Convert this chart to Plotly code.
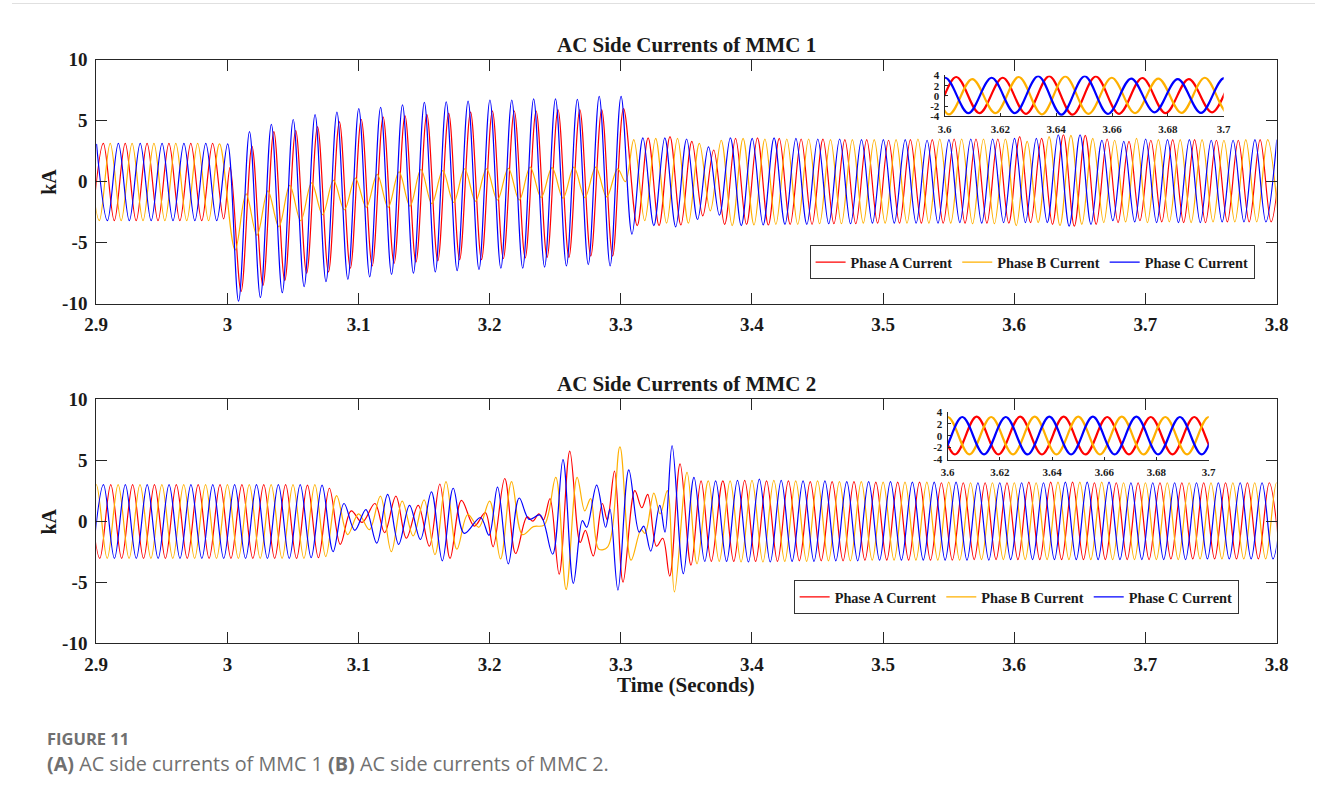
import plotly.graph_objects as go

HALF = 1 / 120  # half period of the 60 Hz currents (s)

# ================= MMC 1 : current extrema (kA) =================
# Phase C (blue): one run of extrema, first at t0, one every half period
m1_c_t0 = 2.9002
m1_c = [3.1, -3.2, 3.15, -3.2, 3.15, -3.2, 3.15, -3.2, 3.15, -3.2, 3.15, -3.2,
        3.1, -9.8, 4.1, -9.5, 4.7, -9.1, 5.1, -8.6, 5.5, -8.2, 5.7, -8.0, 6.0, -7.8,
        6.1, -7.6, 6.3, -7.5, 6.5, -7.4, 6.55, -7.3, 6.6, -7.2, 6.7, -7.1, 6.7, -7.1,
        6.8, -7.0, 6.8, -6.9, 6.75, -6.8, 7.0, -6.9, 7.0,
        -4.3, 3.6, -3.6, 3.6, -3.7, 3.5, -3.1, 2.85, -2.75, 3.6, -3.6,
        3.55, -3.55, 3.6, -3.5, 3.55, -3.5, 3.5, -3.45, 3.5, -3.45, 3.45, -3.4,
        3.45, -3.4, 3.45, -3.4, 3.4, -3.4, 3.45, -3.35, 3.5, -3.4, 3.5, -3.35,
        3.55, -3.35, 3.55, -3.35, 3.85, -3.65, 3.85, -3.5, 3.4, -3.2, 3.3, -3.3, 3.5,
        -3.35, 3.45, -3.35, 3.45, -3.35, 3.4, -3.3, 3.4, -3.3, 3.45, -3.3, 3.45]
# Phase A (red)
m1_a_pre_t0 = 2.8971
m1_a_pre = [-3.2, 3.15, -3.2, 3.15, -3.2, 3.15, -3.2, 3.15, -3.2, 3.15, -3.2, 3.15, -3.05]
m1_a_flt_t0 = 3.0021
m1_a_flt = [1.2, -9.0, 2.9, -8.5, 4.1, -8.1, 4.2, -7.5, 4.5, -7.4, 4.9, -7.1, 5.1, -6.9,
            5.3, -6.7, 5.4, -6.6, 5.5, -6.5, 5.6, -6.4, 5.7, -6.4, 5.8, -6.3, 5.8, -6.25,
            5.8, -6.2, 5.9, -6.2, 5.9, -6.1, 5.9, -6.1, 6.0]
m1_a_post_t0 = 3.3125
m1_a_post = [-3.6, 3.6, -3.6, 3.7, -3.55, 3.3, -2.8, 2.6, -3.5, 3.55,
             -3.5, 3.6, -3.55, 3.55, -3.5, 3.5, -3.5, 3.5, -3.45, 3.45, -3.45, 3.45, -3.4,
             3.4, -3.4, 3.45, -3.4, 3.45, -3.4, 3.5, -3.4, 3.5, -3.4, 3.5, -3.4,
             3.7, -3.35, 3.55, -3.5, 3.85, -3.65, 3.8, -3.5, 3.5, -3.35, 3.3, -3.2, 3.4,
             -3.3, 3.45, -3.35, 3.45, -3.35, 3.4, -3.3, 3.4, -3.3, 3.45, -3.3, 3.45]
# Phase B (orange)
m1_b_pre_t0 = 2.8940
m1_b_pre = [3.15, -3.2, 3.15, -3.2, 3.15, -3.2, 3.15, -3.2, 3.15, -3.2, 3.15, -3.2, 3.1]
m1_b_flt_t0 = 3.0059
m1_b_flt = [-5.6, -1.0, -4.4, -0.75, -3.7, -0.3, -3.2, -0.1, -2.7, 0.1, -2.3, 0.3,
            -2.1, 0.6, -2.1, 0.8, -2.0, 1.0, -1.8, 0.9, -1.7, 1.05, -1.6, 1.05, -1.5,
            1.1, -1.5, 1.2, -1.3, 1.15, -1.35, 1.2, -1.3, 1.2, -1.25, 1.05]
m1_b_mid_t = [3.3035]
m1_b_mid = [0.0]
m1_b_post_t0 = 3.3099
m1_b_post = [3.45, -3.2, 3.55, -3.4, 3.55, -3.4, 3.15, -2.4, 3.4, -3.6,
             3.55, -3.55, 3.5, -3.5, 3.5, -3.5, 3.5, -3.45, 3.45, -3.45, 3.45, -3.4, 3.45,
             -3.4, 3.45, -3.4, 3.5, -3.4, 3.5, -3.4, 3.5, -3.45, 3.5, -3.45, 3.5,
             -3.6, 3.3, -3.35, 3.7, -3.6, 3.8, -3.5, 3.55, -3.35, 3.4, -3.3, 3.55, -3.35,
             3.45, -3.3, 3.45, -3.35, 3.45, -3.3, 3.4, -3.3, 3.45, -3.3, 3.45, -3.3]

# ================= MMC 2 =================
# Phase A (red)
m2_a_pre_t0 = 2.8944
m2_a_pre = [3.0, -3.05, 3.0, -3.05, 3.0, -3.05, 3.0, -3.05, 3.0, -3.05, 3.0, -3.05,
            3.0, -3.05, 3.0, -3.05, 3.0, -3.05, 3.0, -3.05, 2.95, -3.0]
m2_a_tr_t = [3.0778, 3.0861, 3.0944, 3.1028, 3.1125, 3.1199, 3.1285, 3.1365, 3.1455,
             3.1540, 3.1620, 3.1698, 3.1785, 3.1883, 3.1967, 3.2026, 3.2115, 3.2198,
             3.2285, 3.2330, 3.2375, 3.2410, 3.2460, 3.2530, 3.2611, 3.2690, 3.2730,
             3.2790, 3.2859, 3.2897, 3.2952, 3.3017, 3.3107, 3.3160, 3.3205, 3.3272,
             3.3320, 3.3373, 3.3452, 3.3535, 3.3612, 3.3690]
m2_a_tr = [2.7, -1.9, 0.85, -0.1, 1.45, -0.95, 2.05, -1.4, 1.3, -2.05, 3.05, -3.05,
           1.7, -0.4, 0.7, -2.1, 3.5, -2.65, 0.35, 0.0, 0.6, 0.1, 1.85, -4.35, 5.75,
           -1.75, -0.75, -2.85, 1.45, 0.1, 4.1, -5.0, 2.5, 1.1, 2.2, -2.05, -1.4, -4.5,
           4.7, -3.6, 3.3, -3.3]
m2_a_post_t0 = 3.3778
m2_a_post = [3.3, -3.3, 3.35, -3.3, 3.3, -3.3, 3.3, -3.25, 3.25, -3.25,
             3.25, -3.25, 3.25, -3.2, 3.2, -3.2, 3.2, -3.2, 3.2, -3.2,
             3.15, -3.2, 3.15, -3.15, 3.15, -3.15, 3.15, -3.15, 3.2, -3.15,
             3.2, -3.15, 3.2, -3.15, 3.15, -3.15, 3.15, -3.15, 3.15, -3.15,
             3.15, -3.1, 3.15, -3.1, 3.15, -3.1, 3.15, -3.1, 3.15, -3.1, 3.15, -3.1]
# Phase B (orange)
m2_b_pre_t0 = 2.8917
m2_b_pre = [-3.05, 3.0, -3.05, 3.0, -3.05, 3.0, -3.05, 3.0, -3.05, 3.0, -3.05, 3.0,
            -3.05, 3.0, -3.05, 3.0, -3.05, 3.0, -3.05, 3.0, -3.05, 3.0]
m2_b_tr_t = [3.0750, 3.0833, 3.0917, 3.1000, 3.1083, 3.1167, 3.1250, 3.1333, 3.1417,
             3.1500, 3.1583, 3.1667, 3.1750, 3.1833, 3.1917, 3.2000, 3.2083, 3.2167,
             3.2250, 3.2333, 3.2417, 3.2504, 3.2583, 3.2667, 3.2725, 3.2770, 3.2833,
             3.2900, 3.2993, 3.3078, 3.3155, 3.3185, 3.3252, 3.3300, 3.3355, 3.3409,
             3.3505, 3.3581]
m2_b_tr = [-2.9, 2.1, -1.1, 0.6, -0.7, 2.05, -2.5, 1.65, -1.2, 1.75, -2.75, 3.25,
           -2.3, 0.55, -0.5, 1.65, -3.1, 3.25, -1.1, -0.45, -0.3, 3.6, -5.6, 3.6, 0.85,
           1.85, -2.3, -2.1, 6.1, -3.2, -0.7, -1.0, 2.3, 0.6, 2.5, -5.8, 4.0, -3.5]
m2_b_post_t0 = 3.3667
m2_b_post = [3.3, -3.3, 3.3, -3.35, 3.35, -3.35, 3.35, -3.3, 3.3, -3.3,
             3.3, -3.25, 3.25, -3.25, 3.25, -3.2, 3.2, -3.2, 3.2, -3.2,
             3.2, -3.2, 3.2, -3.2, 3.15, -3.15, 3.15, -3.15, 3.15, -3.15,
             3.15, -3.15, 3.2, -3.15, 3.2, -3.15, 3.2, -3.15, 3.15, -3.15,
             3.15, -3.15, 3.15, -3.15, 3.15, -3.1, 3.15, -3.1, 3.15, -3.1,
             3.15, -3.1, 3.15, -3.1]
# Phase C (blue)
m2_c_pre_t0 = 2.8972
m2_c_pre = [-3.05, 3.0, -3.05, 3.0, -3.05, 3.0, -3.05, 3.0, -3.05, 3.0, -3.05, 3.0,
            -3.05, 3.0, -3.05, 3.0, -3.05, 3.0, -3.05, 3.0, -3.0, 2.95]
m2_c_tr_t = [3.0806, 3.0889, 3.0972, 3.1056, 3.1139, 3.1222, 3.1306, 3.1389, 3.1472,
             3.1556, 3.1639, 3.1722, 3.1806, 3.1930, 3.1995, 3.2060, 3.2142, 3.2225,
             3.2301, 3.2385, 3.2480, 3.2559, 3.2638, 3.2707, 3.2740, 3.2816, 3.2884,
             3.2917, 3.2978, 3.3061, 3.3140, 3.3175, 3.3228, 3.3297, 3.3337, 3.3391,
             3.3477, 3.3558, 3.3640]
m2_c_tr = [-2.5, 1.45, -0.75, 0.95, -1.8, 2.2, -1.9, 1.3, -1.5, 2.4, -3.25, 2.7, -1.0,
           0.3, -1.15, 2.8, -3.5, 1.9, 0.15, 0.5, -2.7, 5.05, -5.1, 0.05, -0.5, 2.95,
           -0.5, 1.0, -5.65, 4.2, -0.9, -0.4, -2.45, 1.3, -0.9, 6.2, -4.3, 3.6, -3.3]
m2_c_post_t0 = 3.3723
m2_c_post = [3.3, -3.3, 3.35, -3.35, 3.45, -3.35, 3.35, -3.3, 3.3, -3.3,
             3.3, -3.25, 3.25, -3.25, 3.25, -3.2, 3.25, -3.2, 3.2, -3.2,
             3.2, -3.2, 3.2, -3.2, 3.15, -3.2, 3.15, -3.15, 3.15, -3.15,
             3.15, -3.15, 3.2, -3.15, 3.2, -3.15, 3.2, -3.15, 3.15, -3.15,
             3.15, -3.15, 3.15, -3.15, 3.15, -3.1, 3.15, -3.1, 3.15, -3.1,
             3.15, -3.1, 3.15]

# ---- axis ticks / labels ----
x_ticks = [2.9, 3.0, 3.1, 3.2, 3.3, 3.4, 3.5, 3.6, 3.7, 3.8]
x_ticktext = ["2.9", "3", "3.1", "3.2", "3.3", "3.4", "3.5", "3.6", "3.7", "3.8"]
y_ticks = [-10, -5, 0, 5, 10]
y_ticktext = ["-10", "-5", "0", "5", "10"]
ix_ticks = [3.6, 3.62, 3.64, 3.66, 3.68, 3.7]
ix_ticktext = ["3.6", "3.62", "3.64", "3.66", "3.68", "3.7"]
iy_ticks = [-4, -2, 0, 2, 4]
iy_ticktext = ["-4", "-2", "0", "2", "4"]
names = ["Phase A Current", "Phase B Current", "Phase C Current"]
colors = ["#FF0000", "#FFB000", "#0000FF"]


def grid(t0, vals):
    return [t0 + i * HALF for i in range(len(vals))], list(vals)


def join(*parts):
    xs, ys = [], []
    for t, v in parts:
        xs += list(t)
        ys += list(v)
    return xs, ys


m1 = [
    join(grid(m1_a_pre_t0, m1_a_pre), grid(m1_a_flt_t0, m1_a_flt), grid(m1_a_post_t0, m1_a_post)),
    join(grid(m1_b_pre_t0, m1_b_pre), grid(m1_b_flt_t0, m1_b_flt), (m1_b_mid_t, m1_b_mid),
         grid(m1_b_post_t0, m1_b_post)),
    join(grid(m1_c_t0, m1_c)),
]
m2 = [
    join(grid(m2_a_pre_t0, m2_a_pre), (m2_a_tr_t, m2_a_tr), grid(m2_a_post_t0, m2_a_post)),
    join(grid(m2_b_pre_t0, m2_b_pre), (m2_b_tr_t, m2_b_tr), grid(m2_b_post_t0, m2_b_post)),
    join(grid(m2_c_pre_t0, m2_c_pre), (m2_c_tr_t, m2_c_tr), grid(m2_c_post_t0, m2_c_post)),
]

# layout helpers: convert target picture pixels to paper fractions
W, H = 1327, 789
AX, SX = 9.5, 0.985
AY, SY = 9.5, 0.974
SERIF = "Liberation Serif"


def px(x):
    return ((x - AX) / SX) / W


def py(y):
    return 1 - ((y - AY) / SY) / H


fig = go.Figure()
for k in range(3):
    fig.add_trace(go.Scatter(x=m1[k][0], y=m1[k][1], mode="lines", name=names[k],
                             line=dict(color=colors[k], width=1.2, shape="spline", smoothing=1),
                             xaxis="x", yaxis="y", legend="legend", hoverinfo="skip"))
for k in range(3):
    fig.add_trace(go.Scatter(x=m2[k][0], y=m2[k][1], mode="lines", name=names[k],
                             line=dict(color=colors[k], width=1.2, shape="spline", smoothing=1),
                             xaxis="x2", yaxis="y2", legend="legend2", hoverinfo="skip"))
for k in range(3):
    fig.add_trace(go.Scatter(x=m1[k][0], y=m1[k][1], mode="lines", showlegend=False,
                             line=dict(color=colors[k], width=2.2, shape="spline", smoothing=1),
                             xaxis="x3", yaxis="y3", hoverinfo="skip"))
for k in range(3):
    fig.add_trace(go.Scatter(x=m2[k][0], y=m2[k][1], mode="lines", showlegend=False,
                             line=dict(color=colors[k], width=2.2, shape="spline", smoothing=1),
                             xaxis="x4", yaxis="y4", hoverinfo="skip"))

tickfont = dict(family=SERIF, size=19, color="#1a1a1a", weight="bold")
itickfont = dict(family=SERIF, size=11, color="#1a1a1a", weight="bold")
main_x = dict(range=[2.9, 3.8], tickvals=x_ticks, ticktext=x_ticktext, ticks="inside",
              ticklen=11, tickcolor="#262626", showline=True, linecolor="#262626",
              linewidth=1, mirror="ticks", showgrid=False, zeroline=False,
              tickfont=tickfont, ticklabelstandoff=4)
main_y = dict(range=[-10, 10], tickvals=y_ticks, ticktext=y_ticktext, ticks="inside",
              ticklen=11, tickcolor="#262626", showline=True, linecolor="#262626",
              linewidth=1, mirror="ticks", showgrid=False, zeroline=False,
              tickfont=tickfont, ticklabelstandoff=4)
ins_x = dict(range=[3.6, 3.7], tickvals=ix_ticks, ticktext=ix_ticktext, ticks="inside",
             ticklen=3, tickcolor="#262626", showline=True, linecolor="#262626",
             linewidth=1, showgrid=False, zeroline=False, tickfont=itickfont,
             ticklabelstandoff=2)
ins_y = dict(range=[-4, 4], tickvals=iy_ticks, ticktext=iy_ticktext, ticks="inside",
             ticklen=3, tickcolor="#262626", showline=True, linecolor="#262626",
             linewidth=1, showgrid=False, zeroline=False, tickfont=itickfont,
             ticklabelstandoff=2)

legfont = dict(family=SERIF, size=14.3, color="#1a1a1a", weight="bold")
fig.update_layout(
    width=W, height=H, margin=dict(l=0, r=0, t=0, b=0),
    paper_bgcolor="white", plot_bgcolor="white", hovermode=False,
    xaxis=dict(domain=[px(94), px(1278)], anchor="y", **main_x),
    yaxis=dict(domain=[py(303.3), py(59.3)], anchor="x", **main_y),
    xaxis2=dict(domain=[px(94), px(1278)], anchor="y2", **main_x),
    yaxis2=dict(domain=[py(643), py(399)], anchor="x2", **main_y),
    xaxis3=dict(domain=[px(945), px(1225)], anchor="y3", **ins_x),
    yaxis3=dict(domain=[py(116), py(75)], anchor="x3", **ins_y),
    xaxis4=dict(domain=[px(948), px(1210)], anchor="y4", **ins_x),
    yaxis4=dict(domain=[py(459.3), py(411.7)], anchor="x4", **ins_y),
    legend=dict(orientation="h", x=px(1256), y=py(262), xanchor="right", yanchor="middle",
                bgcolor="white", bordercolor="#333333", borderwidth=1, font=legfont,
                itemwidth=30, tracegroupgap=0),
    legend2=dict(orientation="h", x=px(1240), y=py(597), xanchor="right", yanchor="middle",
                 bgcolor="white", bordercolor="#333333", borderwidth=1, font=legfont,
                 itemwidth=30, tracegroupgap=0),
)

titlefont = dict(family=SERIF, size=21, color="#1a1a1a")
kafont = dict(family=SERIF, size=20, color="#1a1a1a")
ann = [
    dict(text="<b>AC Side Currents of MMC 1</b>", x=px(686), y=py(45), font=titlefont),
    dict(text="<b>AC Side Currents of MMC 2</b>", x=px(686), y=py(384), font=titlefont),
    dict(text="<b>Time (Seconds)</b>", x=px(686), y=py(685), font=titlefont),
    dict(text="<b>kA</b>", x=px(47), y=py(181), font=kafont, textangle=-90),
    dict(text="<b>kA</b>", x=px(47), y=py(521), font=kafont, textangle=-90),
]
for a in ann:
    a.update(xref="paper", yref="paper", showarrow=False, xanchor="center", yanchor="middle")
ann.append(dict(text="<b>FIGURE 11</b>", x=px(43), y=py(738), xref="paper", yref="paper",
                showarrow=False, xanchor="left", yanchor="middle",
                font=dict(family="Open Sans", size=16.5, color="#707070")))
ann.append(dict(text="<b>(A)</b> AC side currents of MMC 1 <b>(B)</b> AC side currents of MMC 2.",
                x=px(43), y=py(763), xref="paper", yref="paper", showarrow=False,
                xanchor="left", yanchor="middle",
                font=dict(family="Open Sans", size=19.8, color="#707070")))
fig.update_layout(annotations=ann)
fig.add_shape(type="line", xref="paper", yref="paper", x0=0, x1=1, y0=py(3), y1=py(3),
              line=dict(color="#e0e0e0", width=1))

fig.write_html("out.html")
